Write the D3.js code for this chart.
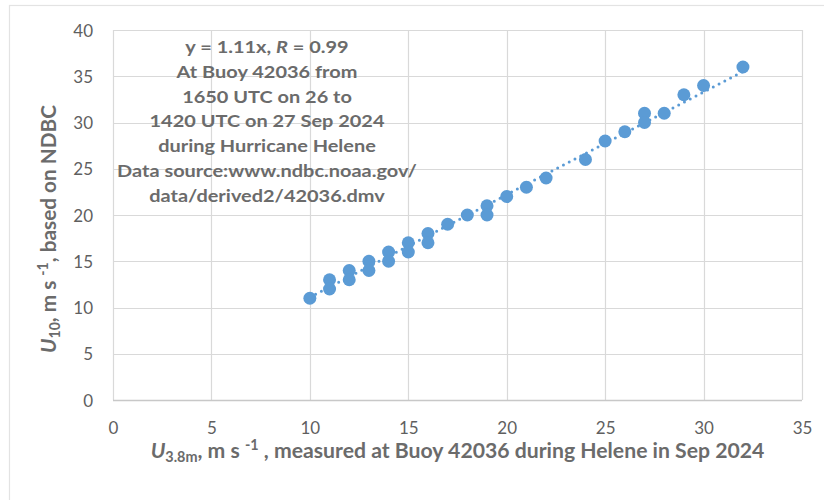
<!DOCTYPE html>
<html>
<head>
<meta charset="utf-8">
<script src="https://cdn.jsdelivr.net/npm/d3@7"></script>
<style>
  html, body { margin: 0; padding: 0; background: #fff; }
  svg { display: block; font-family: Lato, "Open Sans", sans-serif; }
</style>
</head>
<body>
<svg id="chart" width="824" height="500"></svg>
<script>
// Wind speed pairs at Buoy 42036 (m/s)
const u38 = [10, 11, 11, 12, 12, 13, 13, 14, 14, 15, 15, 16, 16, 17, 18, 19, 19, 20, 21, 22, 24, 25, 26, 27, 27, 28, 29, 30, 32];
const u10 = [11, 13, 12, 14, 13, 15, 14, 16, 15, 17, 16, 18, 17, 19, 20, 21, 20, 22, 23, 24, 26, 28, 29, 31, 30, 31, 33, 34, 36];

// Linear fit through the origin
const slope = 1.11;

const xTicks = [0, 5, 10, 15, 20, 25, 30, 35];
const yTicks = [0, 5, 10, 15, 20, 25, 30, 35, 40];

const noteLines = [
  "y = 1.11x, |R| = 0.99",
  "At Buoy 42036 from",
  "1650 UTC on 26 to",
  "1420 UTC on 27 Sep 2024",
  "during Hurricane Helene",
  "Data source:www.ndbc.noaa.gov/",
  "data/derived2/42036.dmv"
];

const svg = d3.select("#chart");
const W = 824, H = 500;
const plot = { left: 113, top: 30, right: 802, bottom: 400 };

const x = d3.scaleLinear().domain([0, 35]).range([plot.left, plot.right]);
const y = d3.scaleLinear().domain([0, 40]).range([plot.bottom, plot.top]);

const blue = "#5b9bd5";
const grid = "#d9d9d9";
const tickColor = "#5f5f5f";
const titleColor = "#6b6b6b";

// Outer chart frame
svg.append("rect")
  .attr("x", 9.5).attr("y", 5.5)
  .attr("width", W + 20).attr("height", H + 20)
  .attr("fill", "#fff").attr("stroke", "#e3e3e3").attr("stroke-width", 1.2);

// Gridlines
svg.append("g").selectAll("line").data(xTicks).join("line")
  .attr("x1", d => Math.round(x(d)) + 0.5).attr("x2", d => Math.round(x(d)) + 0.5)
  .attr("y1", plot.top).attr("y2", plot.bottom)
  .attr("stroke", grid).attr("stroke-width", 1.2);
svg.append("g").selectAll("line").data(yTicks).join("line")
  .attr("y1", d => Math.round(y(d)) + 0.5).attr("y2", d => Math.round(y(d)) + 0.5)
  .attr("x1", plot.left).attr("x2", plot.right)
  .attr("stroke", grid).attr("stroke-width", 1.2);

// Horizontal axis line
svg.append("line")
  .attr("x1", plot.left).attr("x2", plot.right)
  .attr("y1", Math.round(y(0)) + 0.5).attr("y2", Math.round(y(0)) + 0.5)
  .attr("stroke", "#c8c8c8").attr("stroke-width", 1.3);

// Axes (labels only; lines drawn above)
const xAxis = d3.axisBottom(x).tickValues(xTicks).tickSize(0).tickPadding(0);
const gx = svg.append("g").attr("transform", `translate(0,${plot.bottom})`).call(xAxis);
gx.select(".domain").remove();
gx.selectAll("text")
  .attr("y", 34).attr("dy", null)
  .attr("fill", tickColor).attr("font-size", 17).attr("font-family", "Lato, sans-serif");

const yAxis = d3.axisLeft(y).tickValues(yTicks).tickSize(0).tickPadding(0);
const gy = svg.append("g").attr("transform", `translate(${plot.left},0)`).call(yAxis);
gy.select(".domain").remove();
gy.selectAll("text")
  .attr("x", -20).attr("dy", "0.36em")
  .attr("fill", tickColor).attr("font-size", 17).attr("font-family", "Lato, sans-serif");

// Dotted trendline across the data range
const xMin = d3.min(u38), xMax = d3.max(u38);
svg.append("line")
  .attr("x1", x(xMin)).attr("y1", y(slope * xMin))
  .attr("x2", x(xMax)).attr("y2", y(slope * xMax))
  .attr("stroke", blue).attr("stroke-width", 3)
  .attr("stroke-linecap", "round")
  .attr("stroke-dasharray", "0 6.5");

// Data points
svg.append("g").selectAll("circle").data(u38.map((d, i) => [d, u10[i]])).join("circle")
  .attr("cx", d => x(d[0])).attr("cy", d => y(d[1]))
  .attr("r", 6.5).attr("fill", blue);

// Horizontal squeeze factor that brings a text element to a target width
function squeeze(sel, target) {
  return target / sel.node().getComputedTextLength();
}

// Annotation block
const noteX = 267;
const noteBase = 53;
const noteStep = 24.8;
const note = svg.append("g")
  .attr("font-weight", "bold").attr("fill", titleColor)
  .attr("text-anchor", "middle");
noteLines.forEach((line, i) => {
  const t = note.append("text")
    .attr("x", 0).attr("y", noteBase + i * noteStep)
    .attr("font-size", 16.5);
  if (line.includes("|R|")) {
    const parts = line.split("|R|");
    t.append("tspan").text(parts[0]);
    t.append("tspan").attr("font-style", "italic").text("R");
    t.append("tspan").text(parts[1]);
  } else {
    t.text(line);
  }
});
const noteSx = squeeze(note.selectAll("text").filter((d, i) => i === 5), 300);
note.attr("transform", `translate(${noteX},0) scale(${noteSx},1)`);

// X-axis title
const xt = svg.append("text")
  .attr("x", 0).attr("y", 0)
  .attr("text-anchor", "middle").attr("font-weight", "bold")
  .attr("fill", titleColor).attr("font-size", 21);
xt.append("tspan").attr("font-style", "italic").text("U");
xt.append("tspan").attr("font-size", "0.68em").attr("dy", 4).text("3.8m");
xt.append("tspan").attr("dy", -4).text(", m s ");
xt.append("tspan").attr("font-size", "0.68em").attr("dy", -8).text("-1");
xt.append("tspan").attr("dy", 8).text(" , measured at Buoy 42036 during Helene in Sep 2024");
xt.attr("transform", `translate(${(plot.left + plot.right) / 2},458) scale(${squeeze(xt, 614)},1)`);

// Y-axis title
const yt = svg.append("text")
  .attr("x", 0).attr("y", 0)
  .attr("text-anchor", "middle").attr("font-weight", "bold")
  .attr("fill", titleColor).attr("font-size", 21);
yt.append("tspan").attr("font-style", "italic").text("U");
yt.append("tspan").attr("font-size", "0.68em").attr("dy", 4).text("10");
yt.append("tspan").attr("dy", -4).text(", m s ");
yt.append("tspan").attr("font-size", "0.68em").attr("dy", -8).text("-1");
yt.append("tspan").attr("dy", 8).text(", based on NDBC");
yt.attr("transform", `translate(56,229) rotate(-90) scale(${squeeze(yt, 248)},1)`);
</script>
</body>
</html>
